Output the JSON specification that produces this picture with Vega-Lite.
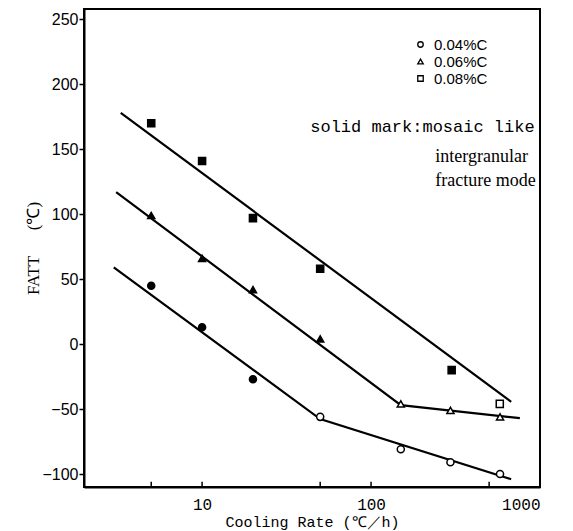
{
  "$schema": "https://vega.github.io/schema/vega-lite/v6.json",
  "width": 456,
  "height": 478,
  "autosize": {"type": "none"},
  "padding": {"left": 84, "top": 9, "right": 33, "bottom": 44},
  "background": "white",
  "config": {
    "view": {"stroke": "black", "strokeWidth": 2},
    "axis": {"grid": false, "domainColor": "black", "domainWidth": 2, "tickColor": "black", "tickWidth": 1.5, "labelColor": "black", "titleColor": "black", "titleFontWeight": "normal"}
  },
  "datasets": {
    "points": [
      {"rate": 5, "fatt": 45, "steel": "0.04%C", "mode": "solid"},
      {"rate": 10, "fatt": 13, "steel": "0.04%C", "mode": "solid"},
      {"rate": 20, "fatt": -27, "steel": "0.04%C", "mode": "solid"},
      {"rate": 50, "fatt": -56, "steel": "0.04%C", "mode": "open"},
      {"rate": 150, "fatt": -81, "steel": "0.04%C", "mode": "open"},
      {"rate": 295, "fatt": -91, "steel": "0.04%C", "mode": "open"},
      {"rate": 580, "fatt": -100, "steel": "0.04%C", "mode": "open"},
      {"rate": 5, "fatt": 99, "steel": "0.06%C", "mode": "solid"},
      {"rate": 10, "fatt": 66, "steel": "0.06%C", "mode": "solid"},
      {"rate": 20, "fatt": 42, "steel": "0.06%C", "mode": "solid"},
      {"rate": 50, "fatt": 4, "steel": "0.06%C", "mode": "solid"},
      {"rate": 150, "fatt": -46, "steel": "0.06%C", "mode": "open"},
      {"rate": 295, "fatt": -51, "steel": "0.06%C", "mode": "open"},
      {"rate": 580, "fatt": -56, "steel": "0.06%C", "mode": "open"},
      {"rate": 5, "fatt": 170, "steel": "0.08%C", "mode": "solid"},
      {"rate": 10, "fatt": 141, "steel": "0.08%C", "mode": "solid"},
      {"rate": 20, "fatt": 97, "steel": "0.08%C", "mode": "solid"},
      {"rate": 50, "fatt": 58, "steel": "0.08%C", "mode": "solid"},
      {"rate": 300, "fatt": -20, "steel": "0.08%C", "mode": "solid"},
      {"rate": 578, "fatt": -46, "steel": "0.08%C", "mode": "open"}
    ],
    "lines": [
      {"rate": 3.0, "fatt": 59, "steel": "0.04%C"},
      {"rate": 50, "fatt": -57.7, "steel": "0.04%C"},
      {"rate": 675, "fatt": -104, "steel": "0.04%C"},
      {"rate": 3.1, "fatt": 117, "steel": "0.06%C"},
      {"rate": 150, "fatt": -47, "steel": "0.06%C"},
      {"rate": 760, "fatt": -57, "steel": "0.06%C"},
      {"rate": 3.3, "fatt": 178, "steel": "0.08%C"},
      {"rate": 675, "fatt": -44.4, "steel": "0.08%C"}
    ],
    "xticks": [
      {"rate": 5}, {"rate": 10}, {"rate": 50}, {"rate": 100}, {"rate": 500}
    ],
    "notes": [
      {"rate": 930, "fatt": 167, "text": "solid mark:mosaic like", "font": "mono"},
      {"rate": 240, "fatt": 143.8, "text": "intergranular", "font": "serif"},
      {"rate": 240, "fatt": 125.4, "text": "fracture mode", "font": "serif"}
    ]
  },
  "layer": [
    {
      "data": {"name": "lines"},
      "mark": {"type": "line", "color": "black", "strokeWidth": 2.2, "clip": true},
      "encoding": {
        "x": {"field": "rate", "type": "quantitative", "scale": {"type": "log", "domain": [2, 1000], "nice": false},
          "axis": {"values": [5, 10, 50, 100, 500, 1000], "labelExpr": "indexof([10,100,1000], datum.value) >= 0 ? format(datum.value, 'd') : ''", "ticks": false, "labelPadding": 9, "labelFont": "Liberation Mono", "labelFontSize": 16, "title": "Cooling Rate (℃／h)", "titleFont": "Liberation Mono", "titleFontSize": 15, "titlePadding": 2}},
        "y": {"field": "fatt", "type": "quantitative", "scale": {"domain": [-110, 258], "nice": false},
          "axis": {"values": [-100, -50, 0, 50, 100, 150, 200, 250], "tickSize": 5, "labelPadding": 1, "labelFont": "Liberation Sans", "labelFontSize": 16, "title": "FATT\u00a0\u00a0\u00a0\u00a0\u00a0\u00a0(℃)", "titleFont": "Liberation Serif", "titleFontSize": 17, "titlePadding": -1}},
        "detail": {"field": "steel"}
      }
    },
    {
      "data": {"name": "xticks"},
      "mark": {"type": "rule", "color": "black", "strokeWidth": 1.5},
      "encoding": {
        "x": {"field": "rate", "type": "quantitative"},
        "y": {"datum": -110},
        "y2": {"datum": -106}
      }
    },
    {
      "data": {"name": "points"},
      "mark": {"type": "point", "stroke": "black", "strokeWidth": 1.5, "opacity": 1},
      "encoding": {
        "x": {"field": "rate", "type": "quantitative"},
        "y": {"field": "fatt", "type": "quantitative"},
        "shape": {"field": "steel", "type": "nominal",
          "scale": {"domain": ["0.04%C", "0.06%C", "0.08%C"], "range": ["circle", "triangle-up", "square"]},
          "legend": {"title": null, "orient": "none", "legendX": 329, "legendY": 28, "padding": 0, "symbolSize": 30, "symbolFillColor": "white", "symbolStrokeColor": "black", "symbolStrokeWidth": 1.3, "labelFont": "Liberation Sans", "labelFontSize": 15, "labelOffset": 6, "rowPadding": 1, "labelColor": "black"}},
        "fill": {"field": "mode", "type": "nominal", "scale": {"domain": ["solid", "open"], "range": ["black", "white"]}, "legend": null},
        "size": {"value": 50}
      }
    },
    {
      "data": {"name": "notes"},
      "transform": [{"filter": "datum.font == 'mono'"}],
      "mark": {"type": "text", "font": "Liberation Mono", "fontSize": 17, "align": "right", "baseline": "middle", "color": "black"},
      "encoding": {
        "x": {"field": "rate", "type": "quantitative"},
        "y": {"field": "fatt", "type": "quantitative"},
        "text": {"field": "text"}
      }
    },
    {
      "data": {"name": "notes"},
      "transform": [{"filter": "datum.font == 'serif'"}],
      "mark": {"type": "text", "font": "Liberation Serif", "fontSize": 18, "align": "left", "baseline": "middle", "color": "black"},
      "encoding": {
        "x": {"field": "rate", "type": "quantitative"},
        "y": {"field": "fatt", "type": "quantitative"},
        "text": {"field": "text"}
      }
    }
  ]
}
